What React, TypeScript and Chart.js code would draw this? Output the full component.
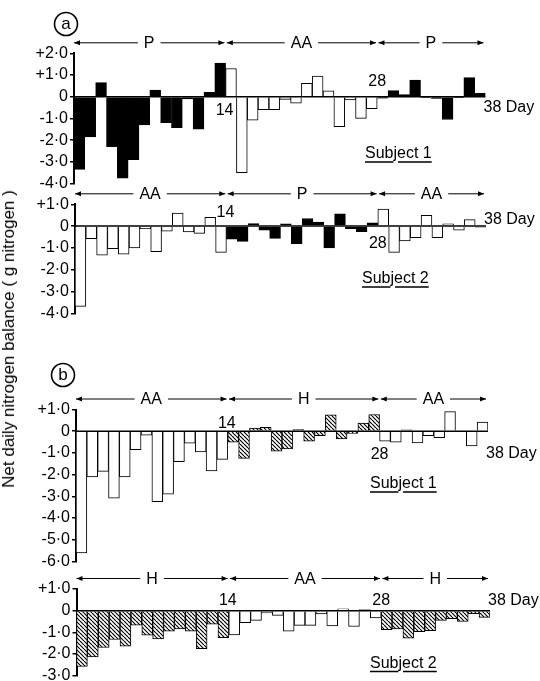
import React, { useEffect, useRef } from 'react';
import { Chart, registerables } from 'chart.js';

Chart.register(...registerables);

// ---- data ----
const days: string[] = Array.from({ length: 38 }, (_, i) => String(i + 1));

const subj1A: number[] = [-3.35, -1.85, 0.65, -2.3, -3.75, -2.9, -1.3, 0.3, -1.2, -1.43, -0.1, -1.5, 0.2, 1.55,
  1.3, -3.5, -1.08, -0.6, -0.6, -0.12, -0.3, 0.62, 0.95, 0.27, -1.38, -0.15, -1.0, -0.55,
  -0.07, 0.28, 0.1, 0.77, -0.04, -0.08, -1.05, -0.05, 0.88, 0.15];
const subj2A: number[] = [-3.68, -0.58, -1.33, -1.03, -1.29, -1.0, -0.12, -1.17, -0.23, 0.6, -0.27, -0.33, 0.4, -1.2,
  -0.6, -0.7, 0.12, -0.18, -0.56, 0.1, -0.8, 0.35, 0.18, -1.0, 0.56, -0.12, -0.26, 0.15,
  0.78, -1.2, -0.68, -0.53, 0.5, -0.53, 0.1, -0.18, 0.3, -0.05];
const subj1B: number[] = [-5.6, -2.1, -1.85, -3.08, -2.1, -0.85, -0.18, -3.25, -2.9, -1.4, -0.55, -0.95, -1.83, -1.3,
  -0.5, -1.25, 0.14, 0.18, -0.92, -0.82, 0.08, -0.46, -0.2, 0.75, -0.35, -0.1, 0.38, 0.77,
  -0.46, -0.5, 0.06, -0.54, -0.2, -0.3, 0.9, -0.02, -0.68, 0.42];
const subj2B: number[] = [-2.57, -2.13, -1.7, -1.33, -1.64, -0.67, -1.13, -1.3, -0.95, -0.84, -0.95, -1.75, -0.62, -1.24,
  -1.12, -0.55, -0.45, -0.1, -0.22, -0.95, -0.68, -0.68, -0.15, -0.7, 0.08, -0.73, 0.05, -0.34,
  -0.88, -0.84, -1.27, -0.97, -0.92, -0.45, -0.37, -0.5, -0.14, -0.31];

type Period = { label: string; from: number; to: number };
const periods1A: Period[] = [{ label: 'P', from: 1, to: 14 }, { label: 'AA', from: 15, to: 28 }, { label: 'P', from: 29, to: 38 }];
const periods2A: Period[] = [{ label: 'AA', from: 1, to: 14 }, { label: 'P', from: 15, to: 28 }, { label: 'AA', from: 29, to: 38 }];
const periods1B: Period[] = [{ label: 'AA', from: 1, to: 14 }, { label: 'H', from: 15, to: 28 }, { label: 'AA', from: 29, to: 38 }];
const periods2B: Period[] = [{ label: 'H', from: 1, to: 14 }, { label: 'AA', from: 15, to: 28 }, { label: 'H', from: 29, to: 38 }];

const yRangeA1 = [-4, 2];
const yRangeA2 = [-4, 1];
const yRangeB1 = [-6, 1];
const yRangeB2 = [-3, 1];

const FAMILY = "'Liberation Sans', Arial, sans-serif";
const FONT = `16px ${FAMILY}`;

type PanelCfg = {
  values: number[]; periods: Period[]; range: number[];
  top: number; height: number; areaTop: number; areaBottom: number; left: number; right: number;
  subject: string; subjX: number; subjBase: number;
  d14: number; d28: number; d38: number;
  circle?: { letter: string; cx: number; cy: number };
};

const panels: PanelCfg[] = [
  { values: subj1A, periods: periods1A, range: yRangeA1, top: 0, height: 196, areaTop: 53.3, areaBottom: 183.5, left: 74, right: 485.5,
    subject: 'Subject 1', subjX: 365, subjBase: 158, d14: 14, d28: -15, d38: 11, circle: { letter: 'a', cx: 66, cy: 24 } },
  { values: subj2A, periods: periods2A, range: yRangeA2, top: 183, height: 142, areaTop: 204.3, areaBottom: 316, left: 75, right: 486,
    subject: 'Subject 2', subjX: 362, subjBase: 283, d14: -13.5, d28: 17.5, d38: -6.5 },
  { values: subj1B, periods: periods1B, range: yRangeB1, top: 360, height: 214, areaTop: 409.5, areaBottom: 561.5, left: 76, right: 488,
    subject: 'Subject 1', subjX: 370, subjBase: 488, d14: -8, d28: 23, d38: 22, circle: { letter: 'b', cx: 63, cy: 375 } },
  { values: subj2B, periods: periods2B, range: yRangeB2, top: 565, height: 130, areaTop: 589, areaBottom: 675.7, left: 76.5, right: 490,
    subject: 'Subject 2', subjX: 370, subjBase: 667.5, d14: -10, d28: -10, d38: -10 },
];

function makeHatch(): CanvasPattern | string {
  const s = 4;
  const c = document.createElement('canvas');
  c.width = s; c.height = s;
  const g = c.getContext('2d');
  if (!g) return '#888';
  g.fillStyle = '#fff';
  g.fillRect(0, 0, s, s);
  g.strokeStyle = '#000';
  g.lineWidth = 1.15;
  for (const k of [-s, 0, s]) {
    g.beginPath(); g.moveTo(k, 0); g.lineTo(k + s, s); g.stroke();
  }
  return g.createPattern(c, 'repeat') || '#888';
}

function fmtTick(v: number | string): string {
  const n = Number(v);
  if (n === 0) return '0';
  const s = Math.abs(n).toFixed(1).replace('.', '·');
  return (n > 0 ? '+' : '-') + s;
}

function Panel({ cfg }: { cfg: PanelCfg }) {
  const ref = useRef<HTMLCanvasElement>(null);
  useEffect(() => {
    if (!ref.current) return;
    const hatch = makeHatch();
    const n = cfg.values.length;
    const fills = cfg.values.map((_, i) => {
      const p = cfg.periods.find(q => i + 1 >= q.from && i + 1 <= q.to);
      const t = p ? p.label : 'AA';
      return t === 'P' ? '#000' : t === 'H' ? hatch : '#fff';
    });

    const annot = {
      id: 'annot',
      afterDatasetsDraw(chart: any) {
        const { ctx, chartArea: a, scales } = chart;
        const xs = scales.x, ys = scales.y;
        const bw = a.width / n;
        const y0 = ys.getPixelForValue(0);
        const boundary = (k: number) => xs.getPixelForValue(k - 1) + bw / 2;
        ctx.save();
        // baseline
        ctx.strokeStyle = '#000';
        ctx.lineWidth = 1.5;
        ctx.beginPath(); ctx.moveTo(a.left, y0); ctx.lineTo(a.right, y0); ctx.stroke();

        // period arrows
        const ay = a.top - 10.5;
        ctx.font = FONT;
        ctx.fillStyle = '#000';
        ctx.textAlign = 'center';
        ctx.textBaseline = 'middle';
        ctx.lineWidth = 1;
        const head = (x: number, dir: number) => {
          ctx.beginPath();
          ctx.moveTo(x, ay);
          ctx.lineTo(x - dir * 6, ay - 2.5);
          ctx.lineTo(x - dir * 6, ay + 2.5);
          ctx.closePath();
          ctx.fill();
        };
        for (const p of cfg.periods) {
          const x1 = xs.getPixelForValue(p.from - 1) - bw / 2 + (p.from > 1 ? 1.2 : 0);
          const x2 = xs.getPixelForValue(p.to - 1) + bw / 2 - (p.to < n ? 1.2 : 2);
          const xc = (x1 + x2) / 2;
          const tw = ctx.measureText(p.label).width;
          const gap = 6;
          ctx.beginPath();
          ctx.moveTo(x1, ay); ctx.lineTo(xc - tw / 2 - gap, ay);
          ctx.moveTo(xc + tw / 2 + gap, ay); ctx.lineTo(x2, ay);
          ctx.stroke();
          head(x1, -1);
          head(x2, 1);
          ctx.fillText(p.label, xc, ay + 1);
        }

        // day labels
        ctx.fillText('14', boundary(14) - 1, y0 + cfg.d14);
        ctx.fillText('28', boundary(28), y0 + cfg.d28);
        ctx.textAlign = 'left';
        ctx.fillText('38 Day', a.right - 2, y0 + cfg.d38);

        // subject label with broken underline
        ctx.textBaseline = 'alphabetic';
        const sx = cfg.subjX, sy = cfg.subjBase - cfg.top;
        ctx.fillText(cfg.subject, sx, sy);
        const wSub = ctx.measureText('Sub').width;
        const wSubj = ctx.measureText('Subj').width;
        const wAll = ctx.measureText(cfg.subject).width;
        ctx.lineWidth = 1.3;
        ctx.beginPath();
        ctx.moveTo(sx, sy + 4); ctx.lineTo(sx + wSub, sy + 4);
        ctx.moveTo(sx + wSubj + 1, sy + 4); ctx.lineTo(sx + wAll, sy + 4);
        ctx.stroke();

        // circled panel letter
        if (cfg.circle) {
          const cx = cfg.circle.cx, cy = cfg.circle.cy - cfg.top;
          ctx.lineWidth = 1.6;
          ctx.beginPath(); ctx.arc(cx, cy, 11.5, 0, Math.PI * 2); ctx.stroke();
          ctx.textAlign = 'center';
          ctx.textBaseline = 'middle';
          ctx.font = `17px ${FAMILY}`;
          ctx.fillText(cfg.circle.letter, cx, cy);
        }
        ctx.restore();
      },
    };

    const chart = new Chart(ref.current, {
      type: 'bar',
      data: {
        labels: days,
        datasets: [{
          data: cfg.values,
          backgroundColor: fills as any,
          borderColor: '#000',
          borderWidth: 1,
          borderSkipped: 'start',
          barPercentage: 1,
          categoryPercentage: 1,
        }],
      },
      options: {
        animation: false,
        responsive: false,
        maintainAspectRatio: false,
        events: [],
        layout: {
          padding: {
            top: cfg.areaTop - cfg.top,
            bottom: cfg.top + cfg.height - cfg.areaBottom,
            left: 0,
            right: 540 - cfg.right,
          },
        },
        plugins: { legend: { display: false }, tooltip: { enabled: false } },
        scales: {
          x: { display: false, offset: true, grid: { display: false } },
          y: {
            min: cfg.range[0],
            max: cfg.range[1],
            afterFit: (s: any) => { s.width = cfg.left; },
            ticks: {
              stepSize: 1,
              autoSkip: false,
              padding: 2,
              color: '#000',
              font: { family: FAMILY, size: 16 },
              callback: (v: any) => fmtTick(v),
            },
            grid: { drawOnChartArea: false, drawTicks: true, tickLength: 4, color: '#000', lineWidth: 1.5 },
            border: { display: true, color: '#000', width: 2 },
          },
        },
      },
      plugins: [annot],
    });
    return () => chart.destroy();
  }, [cfg]);

  return (
    <canvas
      ref={ref}
      width={540}
      height={cfg.height}
      style={{ position: 'absolute', left: 0, top: cfg.top, width: 540, height: cfg.height }}
    />
  );
}

export default function App() {
  return (
    <div style={{ position: 'absolute', left: 0, top: 0, width: 540, height: 681, overflow: 'hidden', background: '#fff' }}>
      {panels.map((p, i) => <Panel key={i} cfg={p} />)}
      <div
        style={{
          position: 'absolute', left: 9, top: 339,
          transform: 'translate(-50%, -50%) rotate(-90deg)',
          whiteSpace: 'nowrap', font: `17px ${FAMILY}`, color: '#000',
        }}
      >
        Net daily nitrogen balance ( g nitrogen )
      </div>
    </div>
  );
}
